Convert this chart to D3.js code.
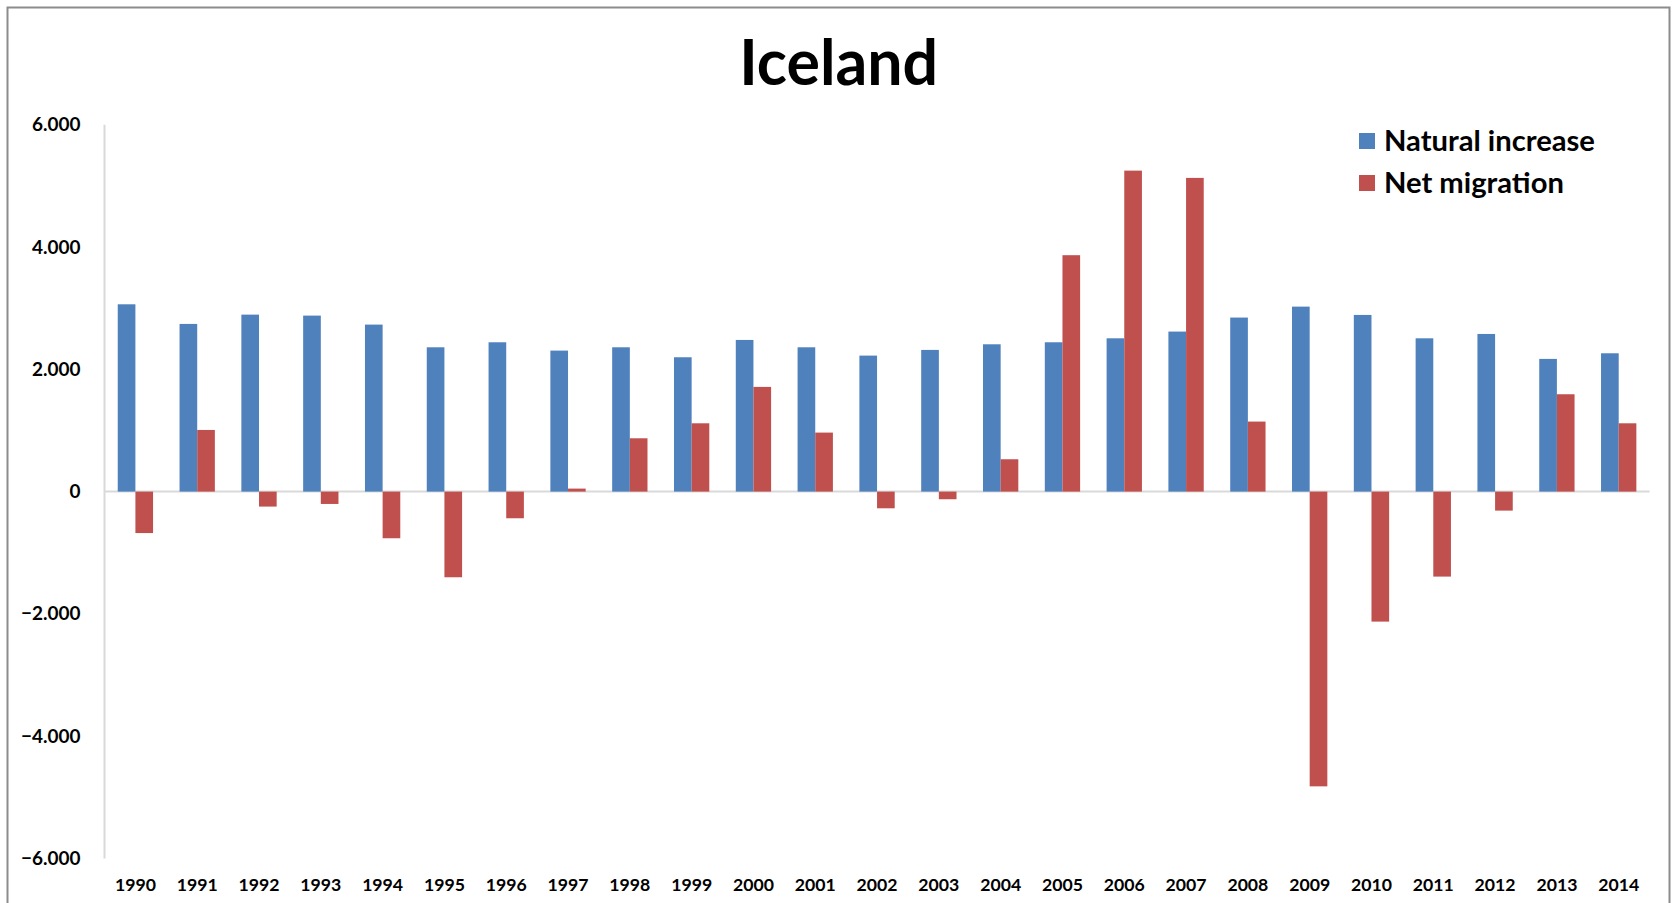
<!DOCTYPE html>
<html>
<head>
<meta charset="utf-8">
<script src="https://cdn.jsdelivr.net/npm/d3@7"></script>
<style>
  html, body { margin: 0; padding: 0; background: #fff; }
  svg { display: block; }
  text { font-family: Lato, "Open Sans", sans-serif; font-weight: bold; fill: #000; }
</style>
</head>
<body>
<svg id="chart" width="1672" height="903"></svg>
<script>
const years = ["1990", "1991", "1992", "1993", "1994", "1995", "1996", "1997", "1998", "1999",
  "2000", "2001", "2002", "2003", "2004", "2005", "2006", "2007", "2008", "2009",
  "2010", "2011", "2012", "2013", "2014"];
const naturalIncrease = [3063, 2742, 2894, 2878, 2731, 2360, 2442, 2306, 2360, 2197,
  2480, 2360, 2224, 2317, 2409, 2442, 2507, 2617, 2846, 3025,
  2889, 2507, 2578, 2170, 2262];
const netMigration = [-678, 1008, -245, -202, -763, -1401, -436, 49, 872, 1117,
  1712, 965, -273, -125, 529, 3866, 5249, 5130, 1145, -4820,
  -2126, -1390, -311, 1592, 1117];
const seriesNames = ["Natural increase", "Net migration"];
const yTicks = [6000, 4000, 2000, 0, -2000, -4000, -6000];

const colors = ["#4f81bd", "#c0504d"];

const svg = d3.select("#chart");

// outer frame
svg.append("rect")
  .attr("x", 7.5).attr("y", 7.5)
  .attr("width", 1662).attr("height", 920)
  .attr("fill", "none").attr("stroke", "#8c8c8c").attr("stroke-width", 2);

const plotLeft = 104.5, plotRight = 1649.6, plotTop = 124.7, plotBottom = 858.5;

const x0 = d3.scaleBand()
  .domain(years)
  .range([plotLeft, plotRight])
  .paddingInner(1.5 / 3.5)
  .paddingOuter(0.75 / 3.5);

const x1 = d3.scaleBand()
  .domain(seriesNames)
  .range([0, x0.bandwidth()]);

const y = d3.scaleLinear().domain([-6000, 6000]).range([plotBottom, plotTop]);

// scale text so it spans a measured width
function fitWidth(sel, target) {
  const w = sel.node().getComputedTextLength();
  const fs = parseFloat(sel.attr("font-size"));
  sel.attr("font-size", fs * target / w);
}

// title
const title = svg.append("text")
  .attr("x", 838.7).attr("y", 85)
  .attr("text-anchor", "middle")
  .attr("font-size", 60)
  .text("Iceland");
fitWidth(title, 199);

// y axis
const fmt = v => v === 0 ? "0" : d3.format(",")(v).replace(",", ".");
const yAxis = svg.append("g")
  .attr("transform", `translate(${plotLeft},0)`)
  .call(d3.axisLeft(y).tickValues(yTicks).tickSize(0).tickPadding(24).tickFormat(fmt));
yAxis.select(".domain").remove();
yAxis.selectAll("text").attr("font-size", 17).attr("font-family", null).attr("fill", "#222");
const sample = yAxis.selectAll("text").filter(d => d === 6000);
const yfs = 17 * 48.5 / sample.node().getComputedTextLength();
yAxis.selectAll("text").attr("font-size", yfs);

svg.append("line")
  .attr("x1", plotLeft).attr("x2", plotLeft)
  .attr("y1", y(6000)).attr("y2", y(-6000))
  .attr("stroke", "#d9d9d9").attr("stroke-width", 2);

// x axis labels
const xAxis = svg.append("g")
  .attr("transform", `translate(0,${plotBottom})`)
  .call(d3.axisBottom(x0).tickSize(0));
xAxis.select(".domain").remove();
xAxis.selectAll("text")
  .attr("dy", null).attr("y", 32.5)
  .attr("font-size", 17).attr("font-family", null).attr("fill", "#222");
const xs = xAxis.select("text");
const xfs = 17 * 41 / xs.node().getComputedTextLength();
xAxis.selectAll("text").attr("font-size", xfs);

// zero line
svg.append("line")
  .attr("x1", plotLeft).attr("x2", plotRight)
  .attr("y1", y(0)).attr("y2", y(0))
  .attr("stroke", "#d9d9d9").attr("stroke-width", 2);

// bars
const rows = years.map((yr, i) => ({ year: yr, values: [naturalIncrease[i], netMigration[i]] }));

svg.append("g")
  .selectAll("g")
  .data(rows)
  .join("g")
  .attr("transform", d => `translate(${x0(d.year)},0)`)
  .selectAll("rect")
  .data(d => d.values.map((v, k) => ({ key: seriesNames[k], value: v, k: k })))
  .join("rect")
  .attr("x", d => x1(d.key))
  .attr("width", x1.bandwidth())
  .attr("y", d => y(Math.max(0, d.value)))
  .attr("height", d => Math.abs(y(d.value) - y(0)))
  .attr("fill", d => colors[d.k]);

// legend
const legend = svg.append("g");
const legendRows = [141, 183];
seriesNames.forEach((name, i) => {
  legend.append("rect")
    .attr("x", 1359).attr("y", legendRows[i] - 8)
    .attr("width", 16).attr("height", 16)
    .attr("fill", colors[i]);
  legend.append("text")
    .attr("class", "leg")
    .attr("x", 1384).attr("y", legendRows[i])
    .attr("dy", "0.35em")
    .attr("font-size", 28)
    .text(name);
});
const lfirst = legend.select("text.leg");
const lfs = 28 * 211 / lfirst.node().getComputedTextLength();
legend.selectAll("text.leg").attr("font-size", lfs);
</script>
</body>
</html>
